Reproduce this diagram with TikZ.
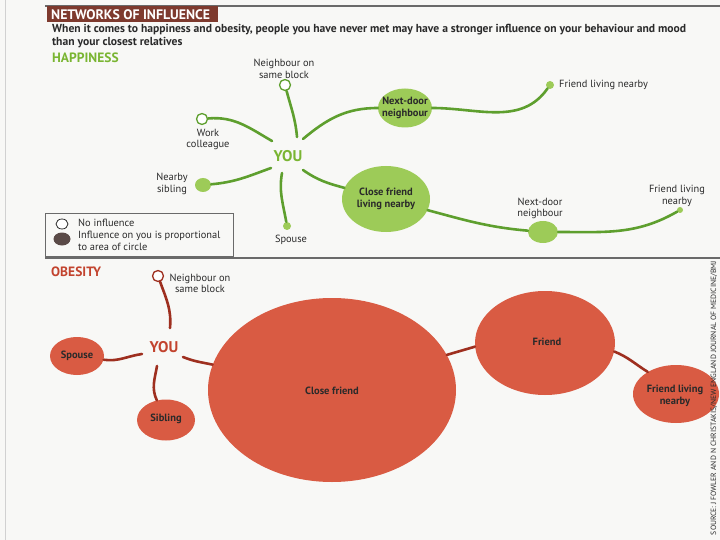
\documentclass[tikz,border=0pt]{standalone}
\usepackage{fontspec}
\setmainfont{PT Sans}
\usetikzlibrary{shapes.geometric}
\definecolor{bgc}{HTML}{F8F8F6}
\definecolor{titlebox}{HTML}{7E3A2E}
\definecolor{rulec}{HTML}{6A6A6A}
\definecolor{gtext}{HTML}{7AB532}
\definecolor{gline}{HTML}{5E9F2E}
\definecolor{gfill}{HTML}{9DCB58}
\definecolor{rtext}{HTML}{C2432E}
\definecolor{rline}{HTML}{9E2F1F}
\definecolor{rfill}{HTML}{D95B43}
\definecolor{txt}{HTML}{2A2A2A}
\definecolor{legdark}{HTML}{5A4A47}
\begin{document}
\begin{tikzpicture}[x=1pt,y=1pt,
  lbl/.style={font=\fontsize{10.4}{11.5}\selectfont, text=txt, align=center, inner sep=0},
  inlbl/.style={font=\fontsize{10.5}{11.5}\selectfont\bfseries, text=txt, align=center},
  gell/.style={ellipse, fill=gfill, inner sep=0},
  gopen/.style={circle, draw=gline, fill=white, line width=1.3pt, minimum size=11pt, inner sep=0},
  gline/.style={draw=gline, line width=2.6pt, line cap=round},
  rell/.style={ellipse, fill=rfill, inner sep=0},
  ropen/.style={circle, draw=rline, fill=white, line width=1.3pt, minimum size=11pt, inner sep=0},
  rline/.style={draw=rline, line width=2.6pt, line cap=round},
  you/.style={font=\fontsize{15.5}{15.5}\selectfont\bfseries, inner sep=0}
]
\fill[bgc] (0,0) rectangle (720,-540);
\path[use as bounding box] (0,0) rectangle (720,-540);
\draw[black!18, line width=0.8pt] (5,0) -- (5,-540);

% header
\draw[rulec, line width=1.6pt] (45,-6) -- (720,-6);
\node[fill=titlebox, anchor=north west, minimum width=171pt, minimum height=16pt, inner sep=0] (tbox) at (47,-6) {};
\node[anchor=west, text=white, font=\fontsize{13.8}{14}\selectfont\bfseries, inner sep=0] (title) at (51,-14.5) {NETWORKS OF INFLUENCE};
\node[anchor=north west, align=left, text=txt, font=\fontsize{11.6}{12.6}\selectfont\bfseries, inner sep=0] (sub) at (52,-24.5)
  {When it comes to happiness and obesity, people you have never met may have a stronger influence on your behaviour and mood\\than your closest relatives};
\node[anchor=west, text=gtext, font=\fontsize{13.5}{14}\selectfont\bfseries, inner sep=0] (happ) at (52,-58) {HAPPINESS};

% happiness graph
\node[you, text=gtext] (hyou) at (288,-156) {YOU};
\coordinate (hy1) at (297,-137);
\coordinate (hy2) at (272,-141);
\coordinate (hy3) at (271,-168);
\coordinate (hy4) at (282,-173);
\coordinate (hy5) at (303,-139);
\coordinate (hy6) at (303,-170);

\node[gopen] (hnsb) at (285,-85) {};
\node[lbl] (hnsbl) at (284,-69) {Neighbour on\\same block};
\node[gopen] (hwc) at (202,-119) {};
\node[lbl] (hwcl) at (208,-139.5) {Work\\colleague};
\node[gell, minimum width=16pt, minimum height=14pt] (hsib) at (203,-185) {};
\node[lbl] (hsibl) at (172,-184) {Nearby\\sibling};
\node[gell, minimum width=8pt, minimum height=8pt] (hsp) at (287,-226) {};
\node[lbl] (hspl) at (291,-240) {Spouse};
\node[gell, minimum width=54pt, minimum height=39pt] (hnd) at (405,-108) {};
\node[inlbl] (hndt) at (405,-108) {Next-door\\neighbour};
\node[gell, minimum width=8pt, minimum height=8pt] (hfn1) at (550,-85) {};
\node[lbl, anchor=west] (hfn1l) at (559,-85) {Friend living nearby};
\node[gell, minimum width=88pt, minimum height=66pt] (hcf) at (386,-199) {};
\node[inlbl] (hcft) at (386,-199) {Close friend\\living nearby};
\node[gell, minimum width=30pt, minimum height=22pt] (hnd2) at (543,-232) {};
\node[lbl] (hnd2l) at (540,-208.5) {Next-door\\neighbour};
\node[gell, minimum width=6pt, minimum height=6pt] (hfn2) at (680,-210) {};
\node[lbl] (hfn2l) at (677,-196) {Friend living\\nearby};

\draw[gline] (hy1) to[out=95,in=-75] (hnsb);
\draw[gline] (hy2) to[out=150,in=5] (hwc);
\draw[gline] (hy3) to[out=200,in=5] (hsib);
\draw[gline] (hy4) to[out=-100,in=100] (hsp);
\draw[gline] (hy5) to[out=40,in=180] (hnd);
\draw[gline] (hnd) to[out=0,in=-125] (hfn1);
\draw[gline] (hy6) to[out=-35,in=165] (hcf);
\draw[gline] (hcf) to[out=-15,in=175] (hnd2);
\draw[gline] (hnd2) to[out=0,in=-150] (hfn2);

% legend
\draw[rulec, line width=0.8pt] (45,-213) rectangle (233,-256);
\node[ellipse, draw=txt, fill=white, line width=0.8pt, minimum width=12pt, minimum height=10pt, inner sep=0] (lg1) at (62,-224) {};
\node[lbl, anchor=west, align=left] (lg1t) at (78,-223) {No influence};
\node[ellipse, fill=legdark, minimum width=17pt, minimum height=13pt, inner sep=0] (lg2) at (62,-239) {};
\node[lbl, anchor=west, align=left] (lg2t) at (78,-241) {Influence on you is proportional\\to area of circle};

\draw[rulec, line width=1.4pt] (45,-258) -- (720,-258);

% obesity
\node[anchor=west, text=rtext, font=\fontsize{13.5}{14}\selectfont\bfseries, inner sep=0] (obes) at (51,-272) {OBESITY};
\node[you, text=rtext] (oyou) at (164,-347) {YOU};
\coordinate (oy1) at (170,-328);
\coordinate (oy2) at (142,-354);
\coordinate (oy3) at (157,-366);
\coordinate (oy4) at (183,-357);

\node[ropen] (onsb) at (158,-276) {};
\node[lbl] (onsbl) at (200,-283.5) {Neighbour on\\same block};
\node[rell, minimum width=54pt, minimum height=38pt] (osp) at (77,-356) {};
\node[inlbl] (ospt) at (77,-356) {Spouse};
\node[rell, minimum width=58pt, minimum height=41pt] (osib) at (166,-420) {};
\node[inlbl] (osibt) at (166,-419) {Sibling};
\node[rell, minimum width=248pt, minimum height=184pt] (ocf) at (332,-390) {};
\node[inlbl] (ocft) at (332,-391) {Close friend};
\node[rell, minimum width=140pt, minimum height=104pt] (ofr) at (545,-343) {};
\node[inlbl] (ofrt) at (547,-342) {Friend};
\node[rell, minimum width=86pt, minimum height=58pt] (ofn) at (676,-394) {};
\node[inlbl] (ofnt) at (675,-396) {Friend living\\nearby};

\draw[rline] (oy1) to[out=85,in=-70] (onsb);
\draw[rline] (oy2) to[out=188,in=-8] (osp);
\draw[rline] (oy3) to[out=-100,in=115] (osib);
\draw[rline] (oy4) to[out=-22,in=168] (ocf);
\draw[rline] (ocf.17) -- (ofr.183);
\draw[rline] (ofr.-7) to[out=-22,in=148] (ofn.142);

% source
\node[rotate=90, text=txt, font=\fontsize{7.6}{8}\selectfont, inner sep=0] (src) at (714,-398)
  {SOURCE: J FOWLER AND N CHRISTAKIS/NEW ENGLAND JOURNAL OF MEDICINE/BMJ};
\end{tikzpicture}
\end{document}
